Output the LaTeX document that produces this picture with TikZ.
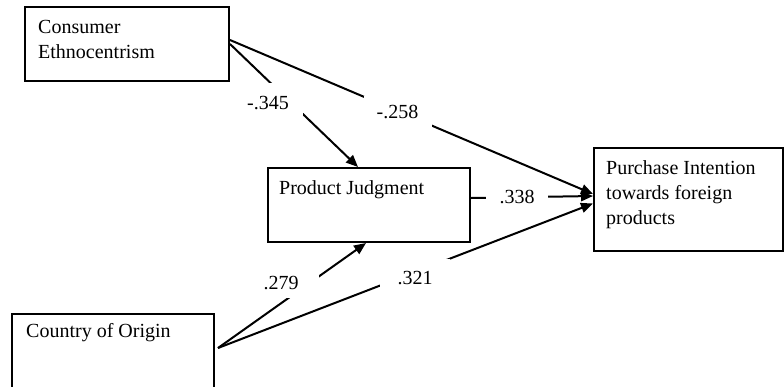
\documentclass[tikz,border=0pt]{standalone}
\usepackage{fontspec}
\setmainfont{Liberation Serif}
\usetikzlibrary{arrows.meta}
\begin{document}
\begin{tikzpicture}[x=1pt,y=-1pt,
  box/.style={draw=black, line width=2pt, fill=white, rectangle, inner sep=0pt, anchor=north west},
  txt/.style={anchor=base west, inner sep=0pt, font=\fontsize{20}{25}\selectfont},
  conn/.style={draw=black, line width=2pt, -{Triangle[length=12pt,width=10pt]}},
  coef/.style={fill=white, inner sep=0pt, font=\fontsize{20}{25}\selectfont}]
\useasboundingbox (0,0) rectangle (784,386);
\clip (0,0) rectangle (784,386);
% boxes
\node[box, minimum width=204pt, minimum height=74pt] (ce) at (24,6) {};
\node[box, minimum width=202pt, minimum height=74pt] (pj) at (267,167) {};
\node[box, minimum width=189pt, minimum height=103pt] (pi) at (593,147) {};
\node[box, minimum width=202pt, minimum height=80pt] (co) at (11,313) {};
% connectors
\draw[conn] ([yshift=4pt]ce.east) -- ([yshift=5.5pt]pi.west);
\draw[conn] (ce.east) -- ([xshift=-11pt]pj.north);
\draw[conn] ([yshift=7pt]pj.east) -- ([yshift=3.5pt]pi.west);
\draw[conn] ([xshift=3pt,yshift=6pt]co.east) -- ([xshift=-3pt]pj.south);
\draw[conn] ([xshift=3pt,yshift=6pt]co.east) -- ([yshift=-4pt]pi.west);
% coefficients
\node[coef, minimum width=70pt, minimum height=40pt] (c1) at (268,103) {-.345};
\node[coef, minimum width=68pt, minimum height=32pt] (c2) at (397.5,111.5) {-.258};
\node[coef, minimum width=62pt, minimum height=20pt] (c3) at (517,197) {.338};
\node[coef, minimum width=76pt, minimum height=28pt] (c4) at (281,283.5) {.279};
\node[coef, minimum width=70pt, minimum height=40pt] (c5) at (415,278.5) {.321};
% texts
\node[txt] (ce1) at (38,33) {Consumer};
\node[txt] (ce2) at (38,58) {Ethnocentrism};
\node[txt] (pj1) at (279,194) {Product Judgment};
\node[txt] (pi1) at (606,174) {Purchase Intention};
\node[txt] (pi2) at (606,199) {towards foreign};
\node[txt] (pi3) at (606,224) {products};
\node[txt] (co1) at (26,337) {Country of Origin};
\end{tikzpicture}
\end{document}
